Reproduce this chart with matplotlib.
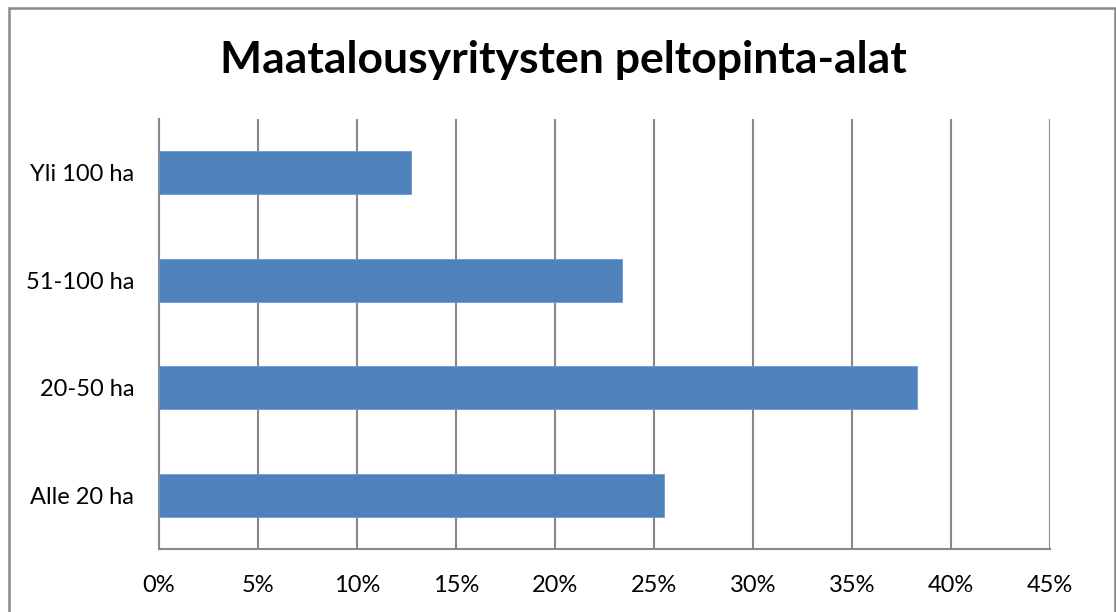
import matplotlib
matplotlib.use("Agg")
import matplotlib.pyplot as plt
from matplotlib.patches import Rectangle
from matplotlib.ticker import FuncFormatter

categories = ["Alle 20 ha", "20-50 ha", "51-100 ha", "Yli 100 ha"]
values = [25.5, 38.3, 23.4, 12.75]
xticks = [0, 5, 10, 15, 20, 25, 30, 35, 40, 45]
title = "Maatalousyritysten peltopinta-alat"

plt.rcParams['font.family'] = ['Lato', 'DejaVu Sans']

W, H = 1116, 612
fig = plt.figure(figsize=(W/100, H/100), dpi=100)
fig.patch.set_facecolor("white")

# outer chart border
fig.patches.append(Rectangle((8.5/W, -0.1), (1115-8.5)/W, (H-7.5)/H + 0.1,
                             transform=fig.transFigure, fill=False,
                             edgecolor="#888888", linewidth=1.8))

ax = fig.add_axes([159/W, 1-549/H, (1050-159)/W, (549-119)/H])
ax.barh(range(len(categories)), values, height=0.4, color="#4F81BD",
        edgecolor="#6F9AD0", linewidth=0.6, zorder=3)
ax.set_xlim(0, 45)
ax.set_ylim(-0.5, len(categories)-0.5)
ax.set_xticks(xticks)
ax.xaxis.set_major_formatter(FuncFormatter(lambda v, p: f"{int(v)}%"))
ax.set_yticks(range(len(categories)))
ax.set_yticklabels(categories)
ax.tick_params(axis='both', length=0, labelsize=17, colors="black")
ax.tick_params(axis='x', pad=19)
ax.tick_params(axis='y', pad=18)
ax.grid(axis='x', color="#888888", linewidth=1.5, zorder=0)
for s in ["top", "right"]:
    ax.spines[s].set_visible(False)
for s in ["left", "bottom"]:
    ax.spines[s].set_color("#888888")
    ax.spines[s].set_linewidth(1.5)

fig.text(563/W, 1-60/H, title, ha="center", va="center", fontsize=32,
         fontweight="bold")

fig.savefig("out.png", dpi=100)
